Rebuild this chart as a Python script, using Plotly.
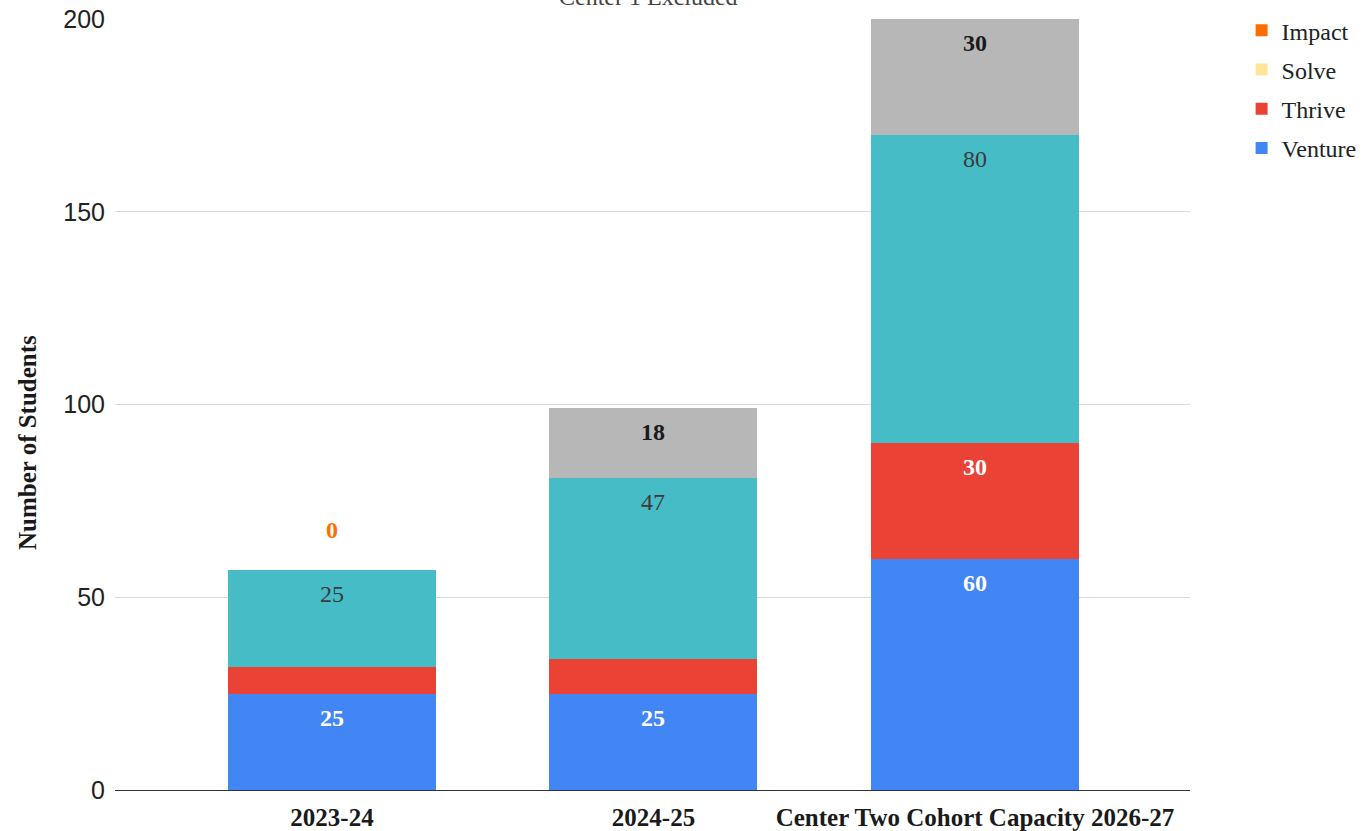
import plotly.graph_objects as go

categories = ["2023-24", "2024-25", "Center Two Cohort Capacity 2026-27"]

# stacked from the bottom up
venture = [25, 25, 60]
thrive = [7, 9, 30]
series5 = [25, 47, 80]
series6 = [0, 18, 30]
solve = [0, 0, 0]
impact = [0, None, None]

# which segments carry a value label
venture_labels = [True, True, True]
thrive_labels = [False, False, True]
series5_labels = [True, True, True]
series6_labels = [False, True, True]
impact_labels = [True, False, False]

SERIF = "Liberation Serif"
SANS = "Liberation Sans"

fig = go.Figure()

# name, values, colour, shown in legend, legend rank
traces = [
    ("Venture", venture, "#4285F4", True, 4),
    ("Thrive", thrive, "#EA4335", True, 3),
    ("Series 5", series5, "#46BDC6", False, 5),
    ("Series 6", series6, "#B7B7B7", False, 6),
    ("Solve", solve, "#FFE599", True, 2),
    ("Impact", impact, "#FF6D01", True, 1),
]
for name, vals, color, show, rank in traces:
    fig.add_trace(go.Bar(
        x=categories, y=vals, name=name, marker_color=color,
        marker_line_width=0, width=0.647, showlegend=show,
        legendgroup=name, legendrank=rank, hoverinfo="x+y+name",
    ))

annotations = []


def add_labels(bottoms, vals, flags, color, bold, shift):
    for i, cat in enumerate(categories):
        v = vals[i]
        if v is None or not flags[i]:
            continue
        top = bottoms[i] + v
        txt = f"<b>{v}</b>" if bold else f"{v}"
        annotations.append(dict(
            x=cat, y=top, xref="x", yref="y", text=txt, showarrow=False,
            yanchor="middle", yshift=shift,
            font=dict(family=SERIF, size=24, color=color),
        ))


base = [0, 0, 0]
add_labels(base, venture, venture_labels, "#ffffff", True, -24)
base = [b + v for b, v in zip(base, venture)]
add_labels(base, thrive, thrive_labels, "#ffffff", True, -24)
base = [b + v for b, v in zip(base, thrive)]
add_labels(base, series5, series5_labels, "#3b3b3b", False, -24)
base = [b + v for b, v in zip(base, series5)]
add_labels(base, series6, series6_labels, "#1a1a1a", True, -24)
base = [b + v for b, v in zip(base, series6)]
add_labels(base, impact, impact_labels, "#FF6D01", True, 40)

# chart title, sitting at the very top edge
annotations.append(dict(
    x=0.5, y=1, xref="paper", yref="paper", text="Center 1 Excluded",
    showarrow=False, yanchor="bottom", xshift=-4, yshift=7,
    font=dict(family=SERIF, size=24, color="#444444"),
))

# y-axis title
annotations.append(dict(
    x=0, y=0.45, xref="paper", yref="paper", xanchor="center",
    yanchor="middle", xshift=-88, text="<b>Number of Students</b>",
    textangle=-90, showarrow=False,
    font=dict(family=SERIF, size=25, color="#1a1a1a"),
))

fig.update_layout(
    barmode="stack",
    width=1363, height=831,
    margin=dict(l=115, r=173, t=19, b=41, autoexpand=False),
    paper_bgcolor="white", plot_bgcolor="white",
    font=dict(family=SERIF),
    bargap=0,
    annotations=annotations,
    legend=dict(
        traceorder="grouped", tracegroupgap=5,
        x=1.048, xanchor="left", y=1.014, yanchor="top",
        font=dict(family=SERIF, size=24, color="#222222"),
        itemwidth=30,
    ),
    xaxis=dict(
        range=[-0.675, 2.669],
        tickfont=dict(family=SERIF, size=25, color="#1a1a1a", weight="bold"),
        showgrid=False, showline=True, linecolor="#333333", linewidth=1.2,
        ticks="", ticklabelstandoff=5,
    ),
    yaxis=dict(
        range=[0, 200], tickvals=[0, 50, 100, 150, 200],
        tickfont=dict(family=SANS, size=25, color="#222222"),
        gridcolor="#d9d9d9", gridwidth=1, zeroline=False,
        ticks="outside", ticklen=4, tickcolor="white",
    ),
)

fig.write_html("out.html")
